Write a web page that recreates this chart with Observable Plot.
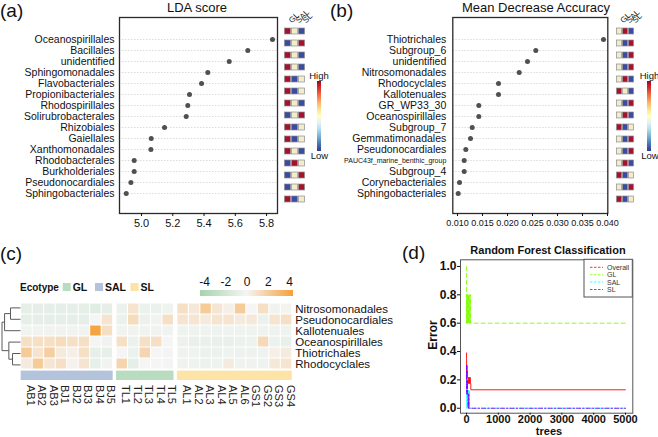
<!DOCTYPE html>
<html>
<head>
<meta charset="utf-8">
<script src="https://cdn.jsdelivr.net/npm/d3@7"></script>
<script src="https://cdn.jsdelivr.net/npm/@observablehq/plot@0.6"></script>
<style>
html,body{margin:0;padding:0;background:#fff;}
#fig{position:relative;width:658px;height:437px;overflow:hidden;background:#fff;font-family:"Liberation Sans",Arial,sans-serif;}
.grad{position:absolute;}
</style>
</head>
<body>
<div id="fig"></div>
<script>
// ---------------- DATA ----------------
const ecotypes = ["GL", "SAL", "SL"];
const levels = ["high", "mid", "low"];

// (a) LDA score
const ldaTaxa = ["Oceanospirillales","Bacillales","unidentified","Sphingomonadales","Flavobacteriales","Propionibacteriales","Rhodospirillales","Solirubrobacterales","Rhizobiales","Gaiellales","Xanthomonadales","Rhodobacterales","Burkholderiales","Pseudonocardiales","Sphingobacteriales"];
const ldaScore = [5.838,5.680,5.561,5.424,5.384,5.307,5.296,5.286,5.147,5.062,5.060,4.953,4.953,4.932,4.902];
const ldaGL  = ["high","low","high","high","high","high","high","low","high","high","high","low","low","low","high"];
const ldaSAL = ["mid","mid","mid","mid","low","low","mid","mid","low","low","mid","high","mid","mid","low"];
const ldaSL  = ["low","high","low","low","mid","mid","low","high","mid","mid","low","mid","high","high","mid"];
const ldaTicks = [5.0, 5.2, 5.4, 5.6, 5.8];

// (b) Mean Decrease Accuracy
const mdaTaxa = ["Thiotrichales","Subgroup_6","unidentified","Nitrosomonadales","Rhodocyclales","Kallotenuales","GR_WP33_30","Oceanospirillales","Subgroup_7","Gemmatimonadales","Pseudonocardiales","PAUC43f_marine_benthic_group","Subgroup_4","Corynebacteriales","Sphingobacteriales"];
const mdaValue = [0.0392,0.02566,0.0240,0.02234,0.0182,0.0182,0.01426,0.01426,0.01294,0.0126,0.01166,0.01134,0.01134,0.0104,0.01014];
const mdaGL  = ["mid","mid","mid","mid","mid","high","mid","mid","high","mid","mid","mid","high","mid","high"];
const mdaSAL = ["high","low","low","low","high","mid","low","high","low","low","low","high","low","low","low"];
const mdaSL  = ["low","high","high","high","low","low","high","low","mid","high","high","low","mid","high","mid"];
const mdaTicks = [0.010, 0.015, 0.020, 0.025, 0.030, 0.035, 0.040];

// (c) heatmap
const hmRows = ["Nitrosomonadales","Pseudonocardiales","Kallotenuales","Oceanospirillales","Thiotrichales","Rhodocyclales"];
const hmSamples = ["AB1","AB2","AB3","BJ1","BJ2","BJ3","BJ4","BJ5","TL1","TL2","TL3","TL4","TL5","AL1","AL2","AL3","AL4","AL5","AL6","GS1","GS2","GS3","GS4"];
const hmEcotype = ["SAL","SAL","SAL","SAL","SAL","SAL","SAL","SAL","GL","GL","GL","GL","GL","SL","SL","SL","SL","SL","SL","SL","SL","SL","SL"];
const hmValues = [
  [-0.8,-0.8,-0.8,-0.8,-0.8,-0.8,-1.0,-0.8, -0.5, 0.8,-0.5,-0.5,-0.3,  1.0, 0.6, 2.0, 0.7, 0.3, 2.0, 0.0, 1.0,-0.2, 0.1],
  [-0.8,-0.8,-0.8,-0.8,-0.8,-0.8, 0.0, 0.8, -0.5, 1.2,-0.5,-0.2, 1.0,  0.8, 0.7, 0.5, 0.8, 0.8, 0.5, 0.6,-0.5, 0.8, 1.0],
  [-0.2,-0.2,-0.2,-0.2,-0.2,-0.2, 3.8, 1.0, -0.2,-0.2,-0.2,-0.2,-0.2, -0.3,-0.3,-0.3,-0.3,-0.3,-0.3,-0.3,-0.3,-0.3,-0.3],
  [ 1.0, 1.0, 1.0, 1.2, 1.0, 1.0, 0.0,-0.2,  1.0,-0.5, 1.0, 1.0, 0.0, -0.5,-0.6,-0.6,-0.6,-0.6,-0.5,-0.4, 1.3,-0.5,-0.6],
  [ 2.0, 0.8, 1.8, 0.5, 0.3, 1.0,-0.7,-0.7,  0.0,-0.5, 1.5, 0.0,-0.1, -0.3,-0.3,-0.5,-0.5,-0.3,-0.4,-0.4,-0.3, 0.3, 0.5],
  [ 0.5, 2.0, 0.7, 1.0, 0.2, 0.8,-0.7,-0.2,  1.5,-0.8, 0.0, 0.0,-0.1, -0.3,-0.3,-0.5,-0.3, 0.5,-0.3,-0.3,-0.3, 0.6, 0.8]
];
const hmGroupOrder = ["SAL","GL","SL"];
const hmLegendTicks = [-4, -2, 0, 2, 4];
const ecoLegend = ["GL","SAL","SL"];
// dendrogram merges (children: row index or merged node "m<k>"), heights relative
const dendroMerges = [
  {a: 0, b: 1, h: 0.54},
  {a: "m0", b: 2, h: 0.86},
  {a: 4, b: 5, h: 0.43},
  {a: 3, b: "m2", h: 0.63},
  {a: "m1", b: "m3", h: 1.0}
];

// (d) random forest error curves
const rfOverallTrees = [1,2,3,5,8,12,17,23,30,40,50,60,75,90,105,120,135,5000];
const rfOverallErr   = [0.391,0.348,0.304,0.261,0.304,0.261,0.217,0.261,0.217,0.217,0.174,0.217,0.217,0.174,0.217,0.174,0.130,0.130];
const rfGLTrees = [1,2,4,6,9,13,18,24,30,37,45,54,63,72,82,92,103,115,128,5000];
const rfGLErr   = [1.0,0.8,0.6,0.8,0.6,0.8,0.6,0.8,0.6,0.8,0.6,0.8,0.6,0.8,0.6,0.8,0.6,0.8,0.6,0.6];
const rfSALTrees = [1,2,4,7,11,16,22,30,40,52,65,80,95,110,5000];
const rfSALErr   = [0.25,0.125,0.25,0.125,0,0.125,0,0.125,0,0.125,0,0.125,0,0,0];
const rfSLTrees = [1,2,3,5,8,12,17,23,30,40,50,62,75,90,5000];
const rfSLErr   = [0.3,0.2,0.3,0.2,0.1,0.2,0.1,0.2,0.1,0.1,0.0,0.1,0.0,0.0,0.0];
const rfNames = ["Overall","GL","SAL","SL"];
const rfXTicks = [0,1000,2000,3000,4000,5000];
const rfYTicks = [0,0.2,0.4,0.6,0.8,1.0];

// ---------------- STYLE ----------------
const W = 658, H = 437;
const FONT = "'Liberation Sans', Arial, Helvetica, sans-serif";
const baseStyle = `position:absolute;left:0;top:0;background:transparent;overflow:visible;font-family:${FONT};color:#111;`;
const levelColors = ["#a8112e", "#f2ecc8", "#3a4ba3"];
const rdylbu = "linear-gradient(to bottom,#a50026,#d73027,#f46d43,#fdae61,#fee090,#ffffbf,#e0f3f8,#abd9e9,#74add1,#4575b4,#313695)";
const hmColors = ["#a5d4ae", "#f5f5f5", "#f5a03a"];
const ecoColors = {GL: "#b7dcbf", SAL: "#b4c3dc", SL: "#fde3a6"};
const rfColors = ["#FF0000", "#80FF00", "#00FFFF", "#8000FF"];
const rfDash = [null, "4,3", "1.5,2", "4,2,1.5,2"];

const fig = document.getElementById("fig");
const put = (el) => { fig.appendChild(el); return el; };

// ---------------- (a) & (b) dot panels ----------------
function dotPanel({taxa, values, left, right, xDomain, ticks, fmt, tickFont, labelDx}) {
  const data = taxa.map((t, i) => ({taxon: t, value: values[i]}));
  return Plot.plot({
    width: W, height: H, style: baseStyle,
    marginLeft: left, marginRight: W - right, marginTop: 17, marginBottom: H - 213,
    x: {domain: xDomain, label: null},
    y: {type: "point", domain: taxa, range: [30, 201], axis: null, label: null},
    marks: [
      Plot.ruleY(taxa, {y: d => d, stroke: "#d2d2d2", strokeWidth: 0.8, strokeDasharray: "1.5,1.5"}),
      Plot.frame({stroke: "#2a2a2a", strokeWidth: 1.3}),
      Plot.dot(data, {x: "value", y: "taxon", r: 2.5, fill: "#505050"}),
      Plot.text(taxa, {y: d => d, frameAnchor: "left", textAnchor: "end", dx: labelDx,
        fontSize: d => d.length > 22 ? 7 : 10.5, fill: "#111"}),
      Plot.axisX({ticks, tickFormat: d3.format(fmt), tickSize: 3, tickPadding: 3, fontSize: tickFont, label: null})
    ]
  });
}
function stripPanel({taxa, gl, sal, sl, left, right}) {
  const step = (201 - 30) / (taxa.length - 1);
  const data = [];
  taxa.forEach((t, i) => {
    data.push({taxon: t, eco: "GL", level: gl[i]}, {taxon: t, eco: "SAL", level: sal[i]}, {taxon: t, eco: "SL", level: sl[i]});
  });
  return Plot.plot({
    width: W, height: H, style: baseStyle,
    marginLeft: left, marginRight: W - right, marginTop: 20, marginBottom: H - 213,
    x: {type: "band", domain: ecotypes, padding: 0, axis: null},
    y: {type: "band", domain: taxa, range: [30 - step / 2, 201 + step / 2], paddingInner: 0.47, paddingOuter: 0.235, axis: null},
    color: {type: "ordinal", domain: levels, range: levelColors},
    marks: [
      Plot.cell(data, {x: "eco", y: "taxon", fill: "level", stroke: "#8c8c8c", strokeWidth: 0.7, insetLeft: 0.5, insetRight: 0.5}),
      Plot.text(ecotypes, {x: d => d, frameAnchor: "top", rotate: -45, textAnchor: "start", dy: -1, fontSize: 8, fill: "#222"})
    ]
  });
}

put(dotPanel({taxa: ldaTaxa, values: ldaScore, left: 119, right: 277, xDomain: [4.859, 5.870], ticks: ldaTicks, fmt: ".1f", tickFont: 11, labelDx: -5}));
put(stripPanel({taxa: ldaTaxa, gl: ldaGL, sal: ldaSAL, sl: ldaSL, left: 284, right: 305}));
put(dotPanel({taxa: mdaTaxa, values: mdaValue, left: 452.3, right: 607.3, xDomain: [0.00906, 0.04006], ticks: mdaTicks, fmt: ".3f", tickFont: 9, labelDx: -6.5}));
put(stripPanel({taxa: mdaTaxa, gl: mdaGL, sal: mdaSAL, sl: mdaSL, left: 615, right: 635.5}));

// ---------------- (c) heatmap ----------------
const gap = 0.29;
const colStart = j => j + hmGroupOrder.indexOf(hmEcotype[j]) * gap;
const cells = [];
hmRows.forEach((r, i) => hmSamples.forEach((s, j) => cells.push({row: r, sample: s, j, v: hmValues[i][j]})));
const groupSpans = hmGroupOrder.map(g => {
  const idx = hmEcotype.map((e, j) => e === g ? j : -1).filter(j => j >= 0);
  return {g, x1: colStart(idx[0]), x2: colStart(idx[idx.length - 1]) + 1};
});
put(Plot.plot({
  width: W, height: H, style: baseStyle,
  marginLeft: 20.7, marginRight: W - 291.8, marginTop: 301.7, marginBottom: H - 381.5,
  x: {domain: [0, hmSamples.length + 2 * gap], axis: null},
  y: {type: "band", domain: [...hmRows, "Ecotype"], padding: 0, axis: null},
  color: {type: "linear", domain: [-4, 0, 4], range: hmColors, clamp: true},
  marks: [
    Plot.barX(cells, {x1: d => colStart(d.j), x2: d => colStart(d.j) + 1, y: "row", fill: "v", inset: 0.5}),
    ...groupSpans.map(s => Plot.barX([s], {x1: "x1", x2: "x2", y: () => "Ecotype", fill: ecoColors[s.g], insetTop: 1.6, insetBottom: 0, insetLeft: 0, insetRight: 0})),
    Plot.text(hmRows, {y: d => d, frameAnchor: "right", textAnchor: "start", dx: 3, fontSize: 11.5, fill: "#111"}),
    Plot.text(hmSamples, {x: (d, j) => colStart(j) + 0.5, frameAnchor: "bottom", rotate: 90, textAnchor: "start", dy: 3, fontSize: 11, fill: "#222"})
  ]
}));

// dendrogram
const nodes = {};
const segs = [];
const nodePos = c => typeof c === "number" ? {y: c + 0.5, h: 0} : nodes[c];
dendroMerges.forEach((m, k) => {
  const A = nodePos(m.a), B = nodePos(m.b);
  nodes["m" + k] = {y: (A.y + B.y) / 2, h: m.h};
  segs.push({x1: A.h, y1: A.y, x2: m.h, y2: A.y}, {x1: B.h, y1: B.y, x2: m.h, y2: B.y}, {x1: m.h, y1: A.y, x2: m.h, y2: B.y});
});
put(Plot.plot({
  width: W, height: H, style: baseStyle,
  marginLeft: 1.5, marginRight: W - 20, marginTop: 301.7, marginBottom: H - 370.1,
  x: {domain: [1, 0], axis: null},
  y: {domain: [0, 6], reverse: true, axis: null},
  marks: [Plot.link(segs, {x1: "x1", y1: "y1", x2: "x2", y2: "y2", stroke: "#5a5a5a", strokeWidth: 1})]
}));

// ---------------- (d) random forest ----------------
const rfData = [
  rfOverallTrees.map((t, i) => ({trees: t, err: rfOverallErr[i]})),
  rfGLTrees.map((t, i) => ({trees: t, err: rfGLErr[i]})),
  rfSALTrees.map((t, i) => ({trees: t, err: rfSALErr[i]})),
  rfSLTrees.map((t, i) => ({trees: t, err: rfSLErr[i]}))
];
put(Plot.plot({
  width: W, height: H, style: baseStyle,
  marginLeft: 460, marginRight: W - 632.3, marginTop: 259.3, marginBottom: H - 412.7,
  x: {domain: [-189, 5230], label: null},
  y: {domain: [-0.035, 1.047], label: null},
  marks: [
    ...rfData.map((d, k) => Plot.line(d, {x: "trees", y: "err", curve: "step-after", stroke: rfColors[k], strokeWidth: 0.9, strokeDasharray: rfDash[k]})),
    Plot.frame({stroke: "#555", strokeWidth: 1}),
    Plot.axisX({ticks: rfXTicks, tickFormat: d3.format("d"), tickSize: 2, tickPadding: 0, fontSize: 11, fontWeight: "bold", label: null}),
    Plot.axisY({ticks: rfYTicks, tickFormat: d3.format(".1f"), tickSize: 3, tickPadding: 1, fontSize: 12, fontWeight: "bold", label: null})
  ]
}));

// ---------------- colour bars (legends) ----------------
function gradDiv(left, top, w, h, bg) {
  const d = document.createElement("div");
  d.className = "grad";
  Object.assign(d.style, {left: left + "px", top: top + "px", width: w + "px", height: h + "px", background: bg});
  return put(d);
}
gradDiv(317, 80.5, 4, 70, rdylbu);
gradDiv(647, 80.5, 4, 70, rdylbu);
gradDiv(200, 289.5, 93, 6.5, `linear-gradient(to right, ${hmColors[0]}, ${hmColors[1]}, ${hmColors[2]})`);

// ---------------- overlay text ----------------
const ov = d3.create("svg").attr("width", W).attr("height", H)
  .attr("style", `position:absolute;left:0;top:0;overflow:visible;font-family:${FONT};`);
function txt(t, x, y, size, opts = {}) {
  const e = ov.append("text").attr("x", x).attr("y", y).attr("font-size", size)
    .attr("text-anchor", opts.anchor || "start").attr("fill", opts.fill || "#111").text(t);
  if (opts.bold) e.attr("font-weight", "bold");
  if (opts.rotate) e.attr("transform", `rotate(${opts.rotate},${x},${y})`);
  return e;
}
txt("(a)", 0, 17, 19);
txt("LDA score", 197, 12, 13, {anchor: "middle"});
txt("(b)", 330, 17, 19);
txt("Mean Decrease Accuracy", 536, 12, 13, {anchor: "middle"});
txt("High", 319, 78.5, 9.5, {anchor: "middle"});
txt("Low", 319.5, 158.5, 9.5, {anchor: "middle"});
txt("High", 649.5, 78.5, 9.5, {anchor: "middle"});
txt("Low", 650, 158.5, 9.5, {anchor: "middle"});
txt("(c)", 0, 260, 19);
txt("Ecotype", 20, 290.5, 10, {bold: true});
const ecoLegendX = [62.7, 95, 130.5];
ecoLegend.forEach((g, k) => {
  ov.append("rect").attr("x", ecoLegendX[k]).attr("y", 283).attr("width", 8).attr("height", 8).attr("fill", ecoColors[g]);
  txt(g, ecoLegendX[k] + 10, 290.5, 10.5, {bold: true});
});
const lgScale = d3.scaleLinear().domain([-4, 4]).range([204.5, 289.5]);
hmLegendTicks.forEach(v => txt(String(v), lgScale(v), 286, 12, {anchor: "middle"}));
txt("(d)", 402, 259, 19);
txt("Random Forest Classification", 548, 254, 11, {anchor: "middle", bold: true});
txt("Error", 437, 335, 12, {anchor: "middle", bold: true, rotate: -90});
txt("trees", 549, 434.7, 11, {anchor: "middle", bold: true});
// RF legend box
ov.append("rect").attr("x", 584).attr("y", 259.3).attr("width", 48.3).attr("height", 37.7)
  .attr("fill", "#fff").attr("stroke", "#555").attr("stroke-width", 1);
const legY = [267.3, 274.7, 282, 289.5];
rfNames.forEach((n, k) => {
  ov.append("line").attr("x1", 590).attr("x2", 603).attr("y1", legY[k]).attr("y2", legY[k])
    .attr("stroke", rfColors[k]).attr("stroke-width", 0.8).attr("stroke-dasharray", "2.5,1.5");
  txt(n, 607, legY[k] + 2.5, 7, {fill: "#333"});
});
put(ov.node());
</script>
</body>
</html>
